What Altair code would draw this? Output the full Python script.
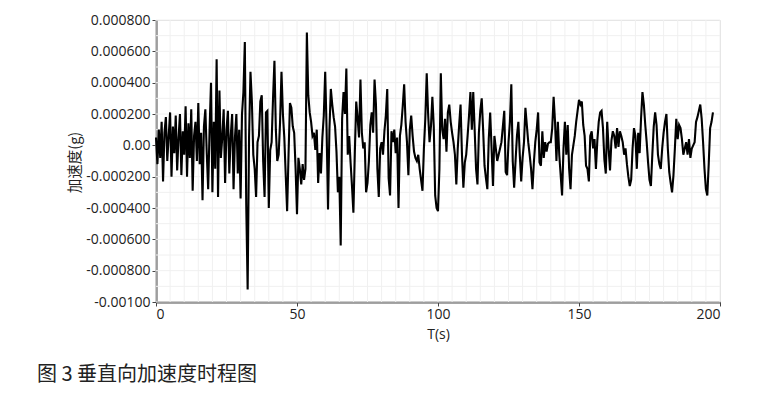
import altair as alt
import pandas as pd

# Vertical acceleration, in units of 1e-4 g, sampled every 0.5 s from t = 0 s
DT = 0.5
ACC_E4 = [
    # 0 - 28 s
    0.5, -1.2, 1.0, -0.8, 1.5, -2.3, 0.8, 1.8, -1.0, 0.6,
    2.1, -2.0, 1.2, -0.5, 1.9, -1.6, 0.5, 2.0, -1.9, 0.9,
    -0.6, 2.5, -2.0, 1.4, -0.8, 2.3, -2.9, 0.6, 1.5, -1.0,
    2.7, -1.2, 0.8, -3.5, 1.2, 2.3, -0.5, -2.8, 1.0, 4.0,
    -3.0, 1.5, -1.5, 5.5, -3.3, 3.5, -0.8, 0.5, 2.3, -2.4,
    1.0, 2.2, -1.8, 0.6, 2.0, -2.8, 0.5,
    # 28.5 - 56.5 s
    2.0, -1.8, 1.0, -3.4, 2.0, 3.4, 6.6, -3.8, -9.2, 0.5,
    4.7, 2.8, -0.6, -1.5, -3.3, 0.2, 0.6, 2.8, 3.2, -1.0,
    -3.3, 2.1, 2.2, -4.0, -0.3, 0.2, 3.0, 5.4, 1.0, -1.0,
    -0.6, 1.5, 4.7, 2.0, 0.5, -1.9, -4.2, -0.6, 2.7, 2.4,
    1.2, 0.8, -1.5, -4.4, -0.8, -1.5, -2.5, -1.2, -2.2, -1.5,
    7.2, 3.2, 2.1, 1.5, 0.6, 0.8, -0.3,
    # 57 - 85 s
    1.0, -2.4, -0.5, -1.8, 0.5, 1.9, 4.7, 1.0, -4.1, 1.0,
    3.6, 2.6, 1.8, 1.2, -0.4, -3.0, -2.0, -6.4, 1.7, 3.4,
    2.0, 4.9, -0.6, 0.6, -1.1, -2.6, -4.3, -0.5, 2.8, 1.7,
    0.5, 4.2, 0.8, -0.2, 0.2, -3.0, -2.4, -1.0, 1.3, 2.1,
    0.8, 4.2, 2.6, -1.5, -3.3, -0.2, 0.2, -0.6, 0.9, 1.9,
    3.6, -2.1, -3.2, 0.9, 0.2, 1.0, -0.5,
    # 85.5 - 113 s
    0.5, -4.0, 0.6, 1.3, 2.5, 3.9, 1.5, 0.2, -1.9, 1.0,
    1.9, 0.6, -0.4, -0.8, -1.0, -0.6, -1.5, -2.2, -2.9, -0.2,
    1.7, 4.6, 2.0, 0.2, 1.2, 3.1, 1.2, -3.2, -4.0, -4.2,
    -1.5, 4.6, 1.0, 0.4, 1.7, -0.4, 2.1, 2.6, 1.5, 0.8,
    0.2, -0.6, -2.5, -0.2, 1.3, 2.6, -0.6, -2.7, -1.1, -0.6,
    0.6, 1.9, 3.4, 1.0, 3.4, 1.0,
    # 113.5 - 141.5 s
    -1.5, -2.5, 0.8, 2.2, 3.0, 1.0, -1.3, -2.1, -2.8, 0.4,
    2.1, -0.2, -2.6, 0.6, -0.2, -1.0, -0.6, -0.2, 0.2, 1.2,
    2.2, -1.7, -1.9, 0.2, 1.5, 3.9, -1.0, -2.7, -1.0, 0.6,
    1.5, -0.6, -2.3, -0.8, 0.2, 2.4, 1.3, 0.2, -0.6, -1.5,
    -2.8, -1.1, 0.2, 1.0, 2.1, -1.1, -1.3, 0.9, -0.8, 0.2,
    -0.4, 0.1, 0.2, 0.2, 1.1, 3.1, 1.5,
    # 142 - 170 s
    -1.0, 1.5, -0.6, -1.9, -3.2, -0.2, 1.5, -0.6, 1.3, -1.5,
    -2.8, -0.6, 0.0, 0.6, 1.5, 2.2, 2.9, 2.6, 2.8, 1.3,
    0.6, -1.3, -1.5, -2.3, 0.6, 0.9, -0.2, 0.4, -1.5, 0.3,
    1.5, 2.1, 2.2, 1.1, -0.9, -1.8, 1.5, -0.2, -1.6, 0.3,
    0.9, 0.6, -0.2, 1.1, -0.1, 0.9, 0.6, 0.2, -0.6, -0.2,
    -1.2, -2.0, -2.6, -2.2, -0.2, 1.1, 0.6,
    # 170.5 - 197.5 s
    -1.5, 0.8, -0.5, 1.7, 3.4, 2.6, 1.3, 0.2, -1.1, -2.2,
    -2.6, -0.6, 1.2, 2.1, 1.3, -0.6, -1.2, -1.5, -0.2, 0.8,
    1.5, 2.0, -0.2, -1.7, -2.4, -3.0, -1.9, -0.2, 1.7, 0.4,
    1.3, 1.1, 0.4, -0.6, -0.2, 0.2, -0.6, 0.4, -0.8, -0.2,
    0.0, 0.2, 1.5, 1.8, 2.2, 2.6, 1.7, 0.2, -1.5, -2.8,
    -3.2, -1.2, 1.1, 1.5, 2.1,
]

Y_TICKS = [-0.001, -0.0008, -0.0006, -0.0004, -0.0002, 0, 0.0002, 0.0004, 0.0006, 0.0008]
X_TICKS = [0, 50, 100, 150, 200]
GRID_X = list(range(0, 201, 5))
GRID_Y = [i * 0.0001 for i in range(-10, 9)]
CAPTION = "图 3 垂直向加速度时程图"
X_TITLE = "T(s)"
Y_TITLE = "加速度(g)"

df = pd.DataFrame({
    "t": [i * DT for i in range(len(ACC_E4))],
    "a": [v * 1e-4 for v in ACC_E4],
})

xs = alt.Scale(domain=[0, 200], nice=False, zero=False)
ys = alt.Scale(domain=[-0.001, 0.0008], nice=False, zero=False)

LABEL_FONT = "Open Sans"
CJK_FONT = "Noto Sans CJK SC"

y_label_expr = (
    "abs(datum.value) < 1e-9 ? '0.00' : "
    "(datum.value < -0.00095 ? '-0.00100' : "
    "(datum.value < 0 ? '-' + format(-datum.value, '.6f') : format(datum.value, '.6f')))"
)

x_axis = alt.Axis(
    values=X_TICKS,
    title=X_TITLE,
    grid=False,
    labelFont=LABEL_FONT,
    labelFontSize=14,
    labelColor="#222222",
    labelPadding=1,
    tickSize=4,
    tickColor="#444444",
    domainColor="#4d4d4d",
    domainWidth=2,
    titleFont=LABEL_FONT,
    titleFontSize=14,
    titleFontWeight="normal",
    titleColor="#222222",
    titleY=25,
    titleBaseline="top",
)

y_axis = alt.Axis(
    values=Y_TICKS,
    title=Y_TITLE,
    grid=False,
    labelExpr=y_label_expr,
    labelFont=LABEL_FONT,
    labelFontSize=14,
    labelColor="#222222",
    labelPadding=2,
    tickSize=4,
    tickColor="#444444",
    domainColor="#4d4d4d",
    domainWidth=2,
    titleFont=CJK_FONT,
    titleFontSize=14.5,
    titleFontWeight="normal",
    titleColor="#222222",
    titleAngle=-90,
    titleAlign="center",
    titleBaseline="middle",
    titleX=-81,
    titleY=142,
)

grid_v = alt.Chart(pd.DataFrame({"gx": GRID_X})).mark_rule(
    color="#f0f0f0", strokeWidth=1
).encode(x=alt.X("gx:Q", scale=xs, axis=x_axis))

grid_h = alt.Chart(pd.DataFrame({"gy": GRID_Y})).mark_rule(
    color="#f0f0f0", strokeWidth=1
).encode(y=alt.Y("gy:Q", scale=ys, axis=y_axis))

line = alt.Chart(df).mark_line(color="#000000", strokeWidth=2.1).encode(
    x=alt.X("t:Q", scale=xs, axis=x_axis),
    y=alt.Y("a:Q", scale=ys, axis=y_axis),
)

caption = alt.Chart(pd.DataFrame({"c": [CAPTION]})).mark_text(
    font=CJK_FONT, fontSize=20, color="#222222", align="left", baseline="middle"
).encode(text="c:N", x=alt.value(-119), y=alt.value(355))

chart = alt.layer(grid_v, grid_h, line, caption).properties(
    width=564,
    height=282,
    autosize=alt.AutoSizeParams(type="none"),
    padding={"left": 148, "top": 12, "right": 55, "bottom": 97},
).configure_view(stroke=None).configure(background="white")

chart.save("out.html", embed_options={"renderer": "svg", "actions": False})
